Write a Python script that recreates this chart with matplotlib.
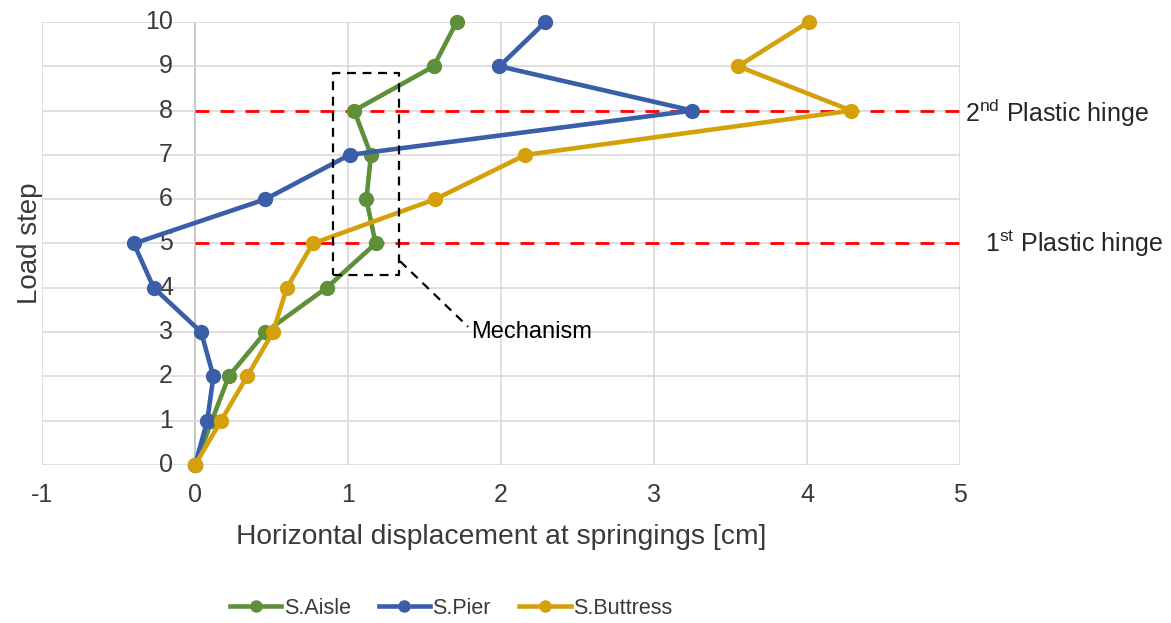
import matplotlib
matplotlib.use("Agg")
import matplotlib.pyplot as plt

plt.rcParams['font.family'] = ['Liberation Sans', 'DejaVu Sans']
plt.rcParams['mathtext.fontset'] = 'custom'
plt.rcParams['mathtext.rm'] = 'Liberation Sans'

# Load steps and horizontal displacements [cm]
load_steps = [0, 1, 2, 3, 4, 5, 6, 7, 8, 9, 10]
aisle = [0.0, 0.11, 0.22, 0.46, 0.86, 1.18, 1.12, 1.15, 1.04, 1.56, 1.71]
pier = [0.0, 0.08, 0.12, 0.04, -0.27, -0.40, 0.46, 1.01, 3.25, 1.99, 2.29]
buttress = [0.0, 0.17, 0.34, 0.51, 0.60, 0.77, 1.57, 2.16, 4.29, 3.55, 4.01]

series_names = ["S.Aisle", "S.Pier", "S.Buttress"]
series_colors = ["#5e8f3a", "#3a5ea7", "#d4a10c"]

x_ticks = [-1, 0, 1, 2, 3, 4, 5]
y_ticks = list(range(0, 11))
hinge_steps = [5, 8]

fig = plt.figure(figsize=(11.71, 6.23), dpi=100)
ax = fig.add_axes([0.0359, 0.2536, 0.7839, 0.7111])
ax.set_xlim(-1, 5)
ax.set_ylim(0, 10)

grid_color = "#d9d9d9"
for xv in x_ticks:
    ax.axvline(xv, color="#bfbfbf" if xv == 0 else grid_color, lw=1.2, zorder=0)
for yv in y_ticks:
    ax.axhline(yv, color=grid_color, lw=1.2, zorder=0)
for s in ax.spines.values():
    s.set_visible(False)
ax.set_xticks([])
ax.set_yticks([])

text_color = "#3a3a3a"

# Tick labels: y labels sit next to the vertical axis crossing at x = 0
for xv in x_ticks:
    ax.annotate(f"{xv}", xy=(xv, 0), xytext=(0, -30), textcoords="offset pixels",
                ha="center", va="center", fontsize=18, color=text_color)
for yv in y_ticks:
    ax.annotate(f"{yv}", xy=(0, yv), xytext=(-22, 0), textcoords="offset pixels",
                ha="right", va="center", fontsize=18, color=text_color)

fig.text(501 / 1171, 1 - 537 / 623, "Horizontal displacement at springings [cm]",
         ha="center", va="center", fontsize=20.3, color=text_color)
fig.text(0.026, 1 - 243 / 623, "Load step", rotation=90, ha="center", va="center",
         fontsize=20, color=text_color)

# Plastic hinge levels
for hs in hinge_steps:
    ax.plot([0, 5], [hs, hs], color="#ff0000", lw=2, ls=(0, (5, 4)), zorder=2)

for vals, name, col in zip([aisle, pier, buttress], series_names, series_colors):
    ax.plot(vals, load_steps, color=col, lw=3.3, marker="o", markersize=10,
            label=name, zorder=3, clip_on=False)

fig.text(965 / 1171, 1 - 113 / 623, r"2$^{\rm nd}$ Plastic hinge", ha="left",
         va="center", fontsize=18, color="#262626")
fig.text(985 / 1171, 1 - 244 / 623, r"1$^{\rm st}$ Plastic hinge", ha="left",
         va="center", fontsize=18, color="#262626")

# Mechanism box and leader line
box_x = [0.90, 1.33, 1.33, 0.90, 0.90]
box_y = [4.29, 4.29, 8.85, 8.85, 4.29]
ax.plot(box_x, box_y, color="black", lw=1.6, ls=(0, (4, 3)), zorder=4)
ax.plot([1.34, 1.785], [4.6, 3.12], color="black", lw=1.6, ls=(0, (4, 3)), zorder=4)
ax.text(1.805, 3.0, "Mechanism", ha="left", va="center", fontsize=17, color="black")

fig.legend(loc="center", bbox_to_anchor=(0.385, 0.024), ncol=3, frameon=False,
           fontsize=15.5, handlelength=2.4, columnspacing=1.3, handletextpad=0.1,
           labelcolor=text_color, markerscale=0.8)

fig.savefig("out.png", dpi=100)
